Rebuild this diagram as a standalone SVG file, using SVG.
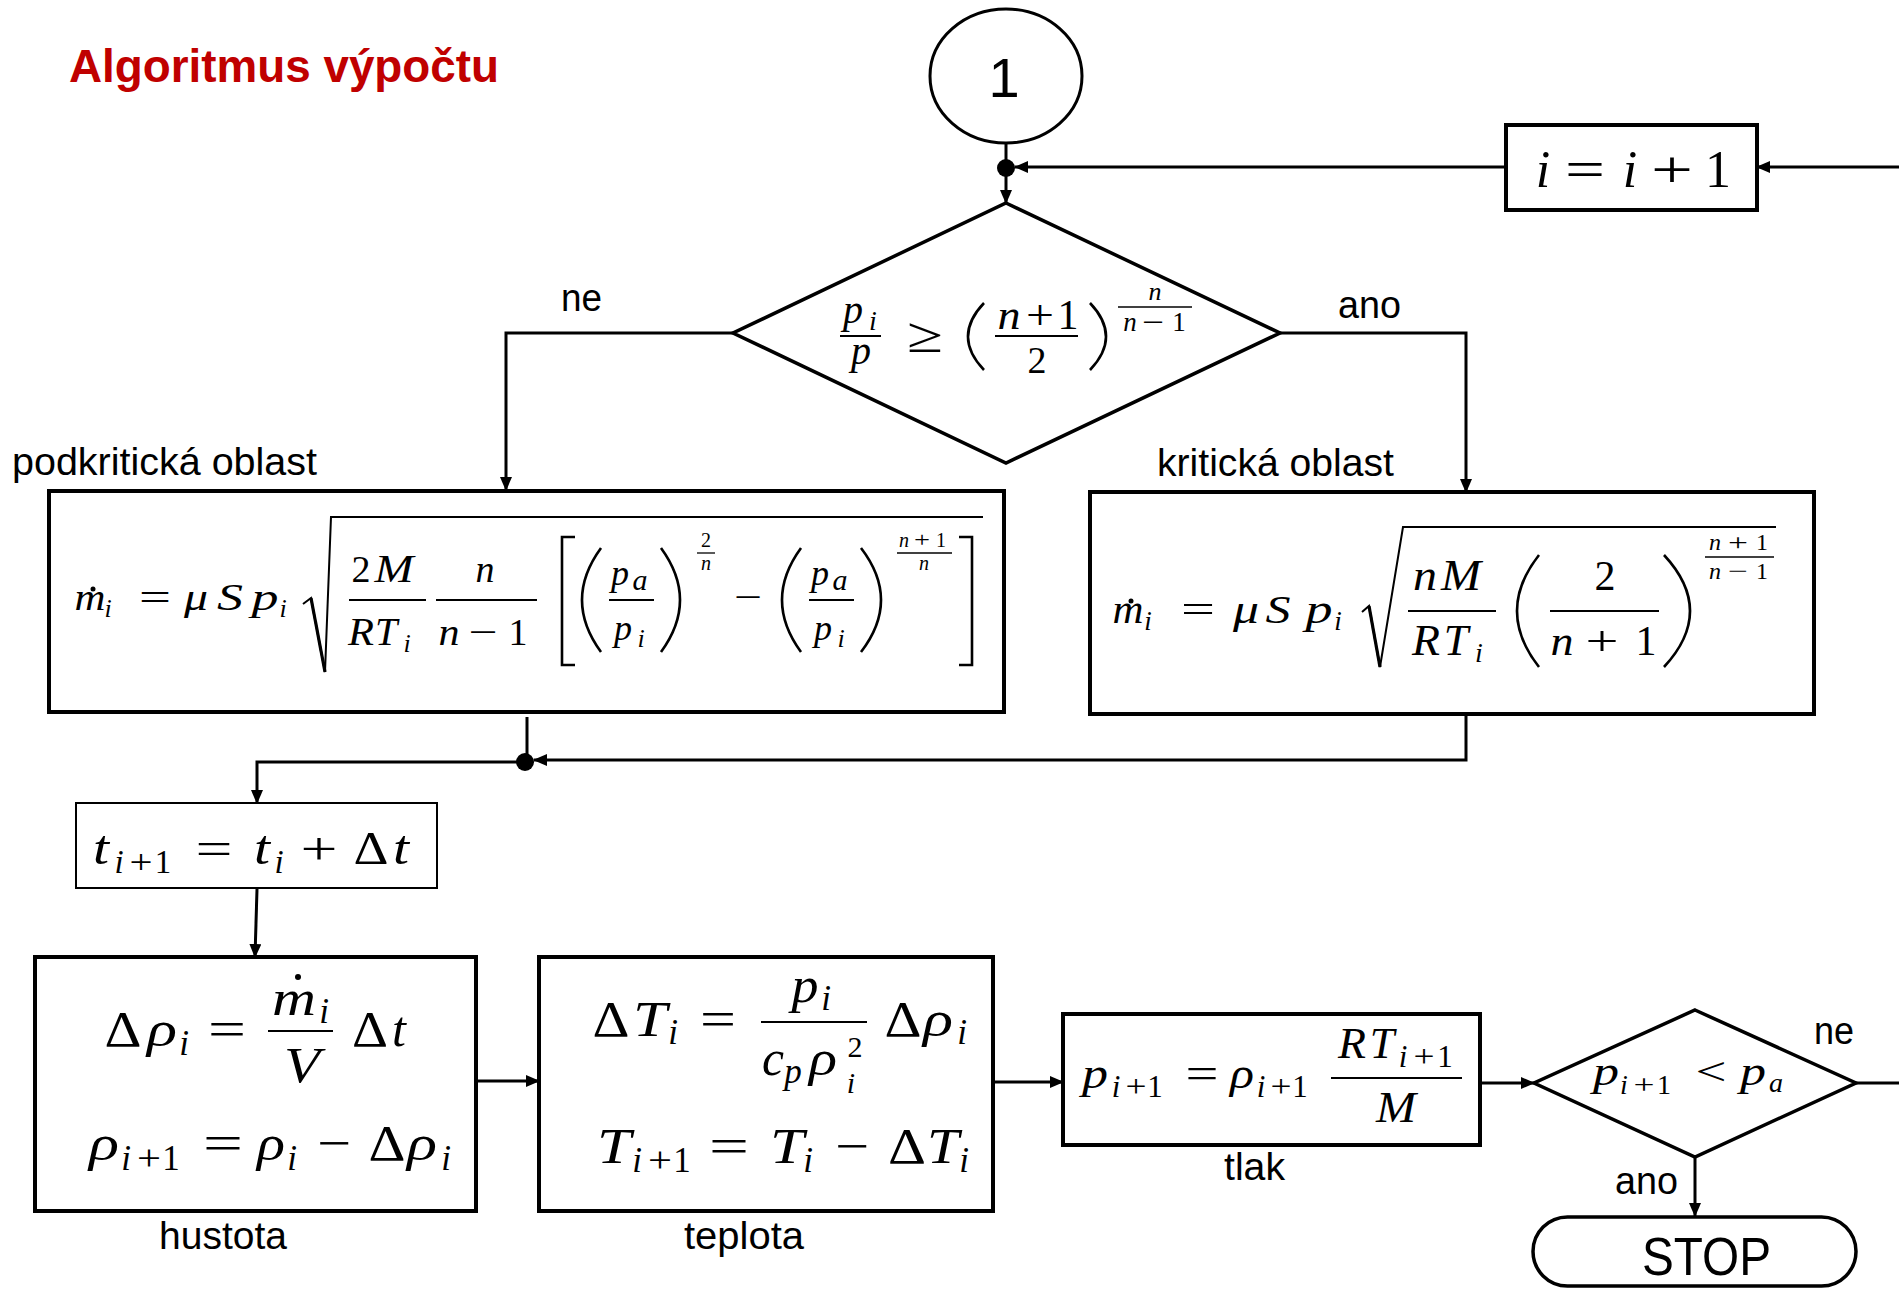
<svg xmlns="http://www.w3.org/2000/svg" width="1899" height="1289" viewBox="0 0 1899 1289">
<defs>
<marker id="ah" viewBox="0 0 14 12" refX="13" refY="6" markerWidth="14" markerHeight="12" markerUnits="userSpaceOnUse" orient="auto"><path d="M0,0 L14,6 L0,12 z" fill="#000"/></marker>
<style>
.node{fill:#fff;stroke:#000;stroke-width:4}
.conn{fill:none;stroke:#000;stroke-width:3}
.lbl{font-family:"Liberation Sans",Arial,sans-serif;font-size:38px;fill:#000}
.mi{font-family:"Liberation Serif","DejaVu Serif",serif;font-style:italic;fill:#000;text-anchor:middle}
.mr{font-family:"Liberation Serif","DejaVu Serif",serif;font-style:normal;fill:#000;text-anchor:middle}
.bar{stroke:#000;stroke-width:2}
.dl{fill:none;stroke:#000;stroke-width:2.6}
</style>
</defs>
<rect width="1899" height="1289" fill="#fff"/>

<text x="69" y="82" font-family="Liberation Sans,Arial,sans-serif" font-weight="bold" font-size="47" fill="#C00000" textLength="430" lengthAdjust="spacingAndGlyphs">Algoritmus výpočtu</text>

<g id="connectors">
<line class="conn" x1="1006" y1="143" x2="1006" y2="162"/>
<line class="conn" x1="1006" y1="168" x2="1006" y2="203" marker-end="url(#ah)"/>
<line class="conn" x1="1899" y1="167" x2="1757" y2="167" marker-end="url(#ah)"/>
<line class="conn" x1="1506" y1="167" x2="1015" y2="167" marker-end="url(#ah)"/>
<polyline class="conn" points="733,333 506,333 506,490" marker-end="url(#ah)"/>
<polyline class="conn" points="1280,333 1466,333 1466,492" marker-end="url(#ah)"/>
<line class="conn" x1="527" y1="717" x2="527" y2="758"/>
<polyline class="conn" points="1466,716 1466,760 534,760" marker-end="url(#ah)"/>
<polyline class="conn" points="525,762 257,762 257,803" marker-end="url(#ah)"/>
<line class="conn" x1="257" y1="889" x2="255" y2="957" marker-end="url(#ah)"/>
<line class="conn" x1="476" y1="1081" x2="539" y2="1081" marker-end="url(#ah)"/>
<line class="conn" x1="993" y1="1082" x2="1063" y2="1082" marker-end="url(#ah)"/>
<line class="conn" x1="1480" y1="1083" x2="1534" y2="1083" marker-end="url(#ah)"/>
<line class="conn" x1="1856" y1="1083" x2="1899" y2="1083"/>
<line class="conn" x1="1695" y1="1157" x2="1695" y2="1216" marker-end="url(#ah)"/>
<circle cx="1006" cy="168" r="9" fill="#000"/>
<circle cx="525" cy="762" r="9" fill="#000"/>
<text class="lbl" x="561" y="311" textLength="41" lengthAdjust="spacingAndGlyphs">ne</text>
<text class="lbl" x="1338" y="318" textLength="63" lengthAdjust="spacingAndGlyphs">ano</text>
<text class="lbl" x="1814" y="1044" textLength="40" lengthAdjust="spacingAndGlyphs">ne</text>
<text class="lbl" x="1615" y="1194" textLength="63" lengthAdjust="spacingAndGlyphs">ano</text>
</g>

<g id="n-start">
<ellipse class="node" cx="1006" cy="76" rx="76" ry="67" style="stroke-width:3"/>
<text x="1004" y="97" text-anchor="middle" font-family="Liberation Sans,Arial,sans-serif" font-size="56">1</text>
</g>

<g id="n-inc">
<rect class="node" x="1506" y="125" width="251" height="85"/>
<text class="mi" x="1543" y="187" font-size="52">i</text>
<text class="mr" x="1585" y="187" font-size="52" textLength="40" lengthAdjust="spacingAndGlyphs">=</text>
<text class="mi" x="1630" y="187" font-size="52">i</text>
<text class="mr" x="1672" y="187" font-size="52" textLength="42" lengthAdjust="spacingAndGlyphs">+</text>
<text class="mr" x="1718" y="187" font-size="52">1</text>
</g>

<g id="n-cond">
<polygon class="node" points="1006,203 1280,333 1006,463 733,333" style="stroke-width:3.5"/>
<text class="mi" x="853" y="323" font-size="40">p</text>
<text class="mi" x="873" y="330" font-size="28">i</text>
<line class="bar" x1="840" y1="336" x2="881" y2="336"/>
<text class="mi" x="861" y="364" font-size="40">p</text>
<text class="mr" x="925" y="352" font-size="50" textLength="36" lengthAdjust="spacingAndGlyphs">≥</text>
<path class="dl" d="M984,303 Q952,336.5 984,370"/>
<text class="mi" x="1009" y="329" font-size="42" textLength="23" lengthAdjust="spacingAndGlyphs">n</text>
<text class="mr" x="1040" y="329" font-size="42" textLength="28" lengthAdjust="spacingAndGlyphs">+</text>
<text class="mr" x="1068" y="329" font-size="42">1</text>
<line class="bar" x1="995" y1="336" x2="1078" y2="336"/>
<text class="mr" x="1037" y="373" font-size="38">2</text>
<path class="dl" d="M1090,303 Q1122,336.5 1090,370"/>
<text class="mi" x="1155" y="300" font-size="26">n</text>
<line class="bar" x1="1118" y1="307" x2="1192" y2="307" style="stroke-width:1.5"/>
<text class="mi" x="1130" y="331" font-size="27">n</text>
<text class="mr" x="1153" y="331" font-size="27" textLength="22" lengthAdjust="spacingAndGlyphs">−</text>
<text class="mr" x="1179" y="331" font-size="27">1</text>
<text class="lbl" x="12" y="475" textLength="305" lengthAdjust="spacingAndGlyphs">podkritická oblast</text>
<text class="lbl" x="1157" y="476" textLength="237" lengthAdjust="spacingAndGlyphs">kritická oblast</text>
</g>

<g id="n-sub">
<rect class="node" x="49" y="491" width="955" height="221"/>
<text class="mi" x="90" y="610" font-size="38" textLength="31" lengthAdjust="spacingAndGlyphs">m</text>
<circle cx="93" cy="589" r="2.5" fill="#000"/>
<text class="mi" x="108" y="617" font-size="26">i</text>
<text class="mr" x="155" y="610" font-size="38" textLength="32" lengthAdjust="spacingAndGlyphs">=</text>
<text class="mi" x="196" y="610" font-size="38" textLength="24" lengthAdjust="spacingAndGlyphs">μ</text>
<text class="mi" x="230" y="610" font-size="38" textLength="26" lengthAdjust="spacingAndGlyphs">S</text>
<text class="mi" x="265" y="610" font-size="38" textLength="27" lengthAdjust="spacingAndGlyphs">p</text>
<text class="mi" x="283" y="617" font-size="26">i</text>
<path class="dl" d="M303,604 L311,598 L325,672 L331,517 L983,517" style="stroke-width:2"/>
<path class="dl" d="M311,598 L325,672" style="stroke-width:3.2"/>
<text class="mr" x="361" y="582" font-size="38">2</text>
<text class="mi" x="394" y="582" font-size="41" textLength="39" lengthAdjust="spacingAndGlyphs">M</text>
<line class="bar" x1="349" y1="600" x2="426" y2="600"/>
<text class="mi" x="361" y="645" font-size="40" textLength="26" lengthAdjust="spacingAndGlyphs">R</text>
<text class="mi" x="386" y="645" font-size="40">T</text>
<text class="mi" x="407" y="652" font-size="26">i</text>
<text class="mi" x="485" y="582" font-size="38">n</text>
<line class="bar" x1="436" y1="600" x2="537" y2="600"/>
<text class="mi" x="449" y="645" font-size="38" textLength="21" lengthAdjust="spacingAndGlyphs">n</text>
<text class="mr" x="483" y="645" font-size="38" textLength="29" lengthAdjust="spacingAndGlyphs">−</text>
<text class="mr" x="518" y="645" font-size="38">1</text>
<path class="dl" d="M575,537 L562,537 L562,665 L575,665"/>
<path class="dl" d="M601,548 Q563,600 601,652"/>
<text class="mi" x="620" y="585" font-size="36">p</text>
<text class="mi" x="640" y="590" font-size="30">a</text>
<line class="bar" x1="609" y1="600" x2="654" y2="600"/>
<text class="mi" x="623" y="640" font-size="36">p</text>
<text class="mi" x="641" y="647" font-size="26">i</text>
<path class="dl" d="M661,548 Q699,600 661,652"/>
<text class="mr" x="706" y="547" font-size="20">2</text>
<line class="bar" x1="697" y1="553" x2="715" y2="553" style="stroke-width:1.3"/>
<text class="mi" x="706" y="570" font-size="20">n</text>
<text class="mr" x="748" y="610" font-size="38" textLength="28" lengthAdjust="spacingAndGlyphs">−</text>
<path class="dl" d="M801,548 Q763,600 801,652"/>
<text class="mi" x="820" y="585" font-size="36">p</text>
<text class="mi" x="840" y="590" font-size="30">a</text>
<line class="bar" x1="809" y1="600" x2="854" y2="600"/>
<text class="mi" x="823" y="640" font-size="36">p</text>
<text class="mi" x="841" y="647" font-size="26">i</text>
<path class="dl" d="M861,548 Q901,600 861,652"/>
<text class="mi" x="904" y="547" font-size="20">n</text>
<text class="mr" x="922" y="547" font-size="20" textLength="16" lengthAdjust="spacingAndGlyphs">+</text>
<text class="mr" x="941" y="547" font-size="20">1</text>
<line class="bar" x1="897" y1="553" x2="952" y2="553" style="stroke-width:1.3"/>
<text class="mi" x="924" y="570" font-size="20">n</text>
<path class="dl" d="M959,537 L972,537 L972,665 L959,665"/>
</g>

<g id="n-crit">
<rect class="node" x="1090" y="492" width="724" height="222"/>
<text class="mi" x="1128" y="623" font-size="40" textLength="31" lengthAdjust="spacingAndGlyphs">m</text>
<circle cx="1131" cy="601" r="2.5" fill="#000"/>
<text class="mi" x="1148" y="630" font-size="27">i</text>
<text class="mr" x="1198" y="623" font-size="40" textLength="34" lengthAdjust="spacingAndGlyphs">=</text>
<text class="mi" x="1246" y="623" font-size="40" textLength="26" lengthAdjust="spacingAndGlyphs">μ</text>
<text class="mi" x="1278" y="623" font-size="40" textLength="25" lengthAdjust="spacingAndGlyphs">S</text>
<text class="mi" x="1319" y="623" font-size="40" textLength="27" lengthAdjust="spacingAndGlyphs">p</text>
<text class="mi" x="1338" y="630" font-size="27">i</text>
<path class="dl" d="M1362,612 L1369,606 L1380,667 L1403,527 L1776,527" style="stroke-width:2"/>
<path class="dl" d="M1369,606 L1380,667" style="stroke-width:3.2"/>
<text class="mi" x="1425" y="590" font-size="44" textLength="24" lengthAdjust="spacingAndGlyphs">n</text>
<text class="mi" x="1461" y="590" font-size="44" textLength="40" lengthAdjust="spacingAndGlyphs">M</text>
<line class="bar" x1="1408" y1="611" x2="1496" y2="611"/>
<text class="mi" x="1426" y="655" font-size="44" textLength="28" lengthAdjust="spacingAndGlyphs">R</text>
<text class="mi" x="1456" y="655" font-size="44">T</text>
<text class="mi" x="1479" y="662" font-size="28">i</text>
<path class="dl" d="M1539,555 Q1495,611 1539,667"/>
<text class="mr" x="1605" y="590" font-size="42">2</text>
<line class="bar" x1="1550" y1="611" x2="1659" y2="611"/>
<text class="mi" x="1562" y="655" font-size="42" textLength="23" lengthAdjust="spacingAndGlyphs">n</text>
<text class="mr" x="1602" y="655" font-size="42" textLength="33" lengthAdjust="spacingAndGlyphs">+</text>
<text class="mr" x="1646" y="655" font-size="42">1</text>
<path class="dl" d="M1664,555 Q1716,611 1664,667"/>
<text class="mi" x="1715" y="550" font-size="24">n</text>
<text class="mr" x="1738" y="550" font-size="24" textLength="20" lengthAdjust="spacingAndGlyphs">+</text>
<text class="mr" x="1762" y="550" font-size="24">1</text>
<line class="bar" x1="1705" y1="557" x2="1774" y2="557" style="stroke-width:1.5"/>
<text class="mi" x="1715" y="579" font-size="24">n</text>
<text class="mr" x="1738" y="579" font-size="24" textLength="20" lengthAdjust="spacingAndGlyphs">−</text>
<text class="mr" x="1762" y="579" font-size="24">1</text>
</g>

<g id="n-time">
<rect class="node" x="76" y="803" width="361" height="85" style="stroke-width:2"/>
<text class="mi" x="101" y="864" font-size="48" textLength="16" lengthAdjust="spacingAndGlyphs">t</text>
<text class="mi" x="119" y="873" font-size="33">i</text>
<text class="mr" x="141" y="873" font-size="33" textLength="23" lengthAdjust="spacingAndGlyphs">+</text>
<text class="mr" x="163" y="873" font-size="33">1</text>
<text class="mr" x="214" y="864" font-size="46" textLength="37" lengthAdjust="spacingAndGlyphs">=</text>
<text class="mi" x="262" y="864" font-size="48" textLength="16" lengthAdjust="spacingAndGlyphs">t</text>
<text class="mi" x="279" y="873" font-size="33">i</text>
<text class="mr" x="319" y="864" font-size="46" textLength="37" lengthAdjust="spacingAndGlyphs">+</text>
<text class="mr" x="371" y="864" font-size="46" textLength="35" lengthAdjust="spacingAndGlyphs">Δ</text>
<text class="mi" x="401" y="864" font-size="48" textLength="16" lengthAdjust="spacingAndGlyphs">t</text>
</g>

<g id="n-density">
<rect class="node" x="35" y="957" width="441" height="254"/>
<text class="mr" x="123" y="1046" font-size="50" textLength="37" lengthAdjust="spacingAndGlyphs">Δ</text>
<text class="mi" x="162" y="1046" font-size="50" textLength="30" lengthAdjust="spacingAndGlyphs">ρ</text>
<text class="mi" x="184" y="1055" font-size="35">i</text>
<text class="mr" x="227" y="1046" font-size="50" textLength="38" lengthAdjust="spacingAndGlyphs">=</text>
<text class="mi" x="294" y="1015" font-size="50" textLength="44" lengthAdjust="spacingAndGlyphs">m</text>
<circle cx="298" cy="977" r="3" fill="#000"/>
<text class="mi" x="324" y="1023" font-size="35">i</text>
<line class="bar" x1="268" y1="1031" x2="333" y2="1031"/>
<text class="mi" x="302" y="1082" font-size="50" textLength="36" lengthAdjust="spacingAndGlyphs">V</text>
<text class="mr" x="370" y="1046" font-size="50" textLength="36" lengthAdjust="spacingAndGlyphs">Δ</text>
<text class="mi" x="399" y="1046" font-size="50">t</text>
<text class="mi" x="104" y="1160" font-size="50" textLength="30" lengthAdjust="spacingAndGlyphs">ρ</text>
<text class="mi" x="126" y="1170" font-size="35">i</text>
<text class="mr" x="149" y="1170" font-size="35" textLength="24" lengthAdjust="spacingAndGlyphs">+</text>
<text class="mr" x="171" y="1170" font-size="35">1</text>
<text class="mr" x="223" y="1160" font-size="50" textLength="40" lengthAdjust="spacingAndGlyphs">=</text>
<text class="mi" x="271" y="1160" font-size="50" textLength="28" lengthAdjust="spacingAndGlyphs">ρ</text>
<text class="mi" x="292" y="1170" font-size="35">i</text>
<text class="mr" x="334" y="1160" font-size="50" textLength="34" lengthAdjust="spacingAndGlyphs">−</text>
<text class="mr" x="387" y="1160" font-size="50" textLength="37" lengthAdjust="spacingAndGlyphs">Δ</text>
<text class="mi" x="422" y="1160" font-size="50" textLength="30" lengthAdjust="spacingAndGlyphs">ρ</text>
<text class="mi" x="446" y="1170" font-size="35">i</text>
<text class="lbl" x="159" y="1249" textLength="128" lengthAdjust="spacingAndGlyphs">hustota</text>
</g>

<g id="n-temp">
<rect class="node" x="539" y="957" width="454" height="254"/>
<text class="mr" x="611" y="1036" font-size="50" textLength="37" lengthAdjust="spacingAndGlyphs">Δ</text>
<text class="mi" x="650" y="1036" font-size="50" textLength="34" lengthAdjust="spacingAndGlyphs">T</text>
<text class="mi" x="673" y="1044" font-size="35">i</text>
<text class="mr" x="718" y="1036" font-size="50" textLength="36" lengthAdjust="spacingAndGlyphs">=</text>
<text class="mi" x="805" y="1002" font-size="50" textLength="27" lengthAdjust="spacingAndGlyphs">p</text>
<text class="mi" x="826" y="1010" font-size="35">i</text>
<line class="bar" x1="761" y1="1022" x2="867" y2="1022"/>
<text class="mi" x="773" y="1075" font-size="50" textLength="22" lengthAdjust="spacingAndGlyphs">c</text>
<text class="mi" x="793" y="1083" font-size="35">p</text>
<text class="mi" x="823" y="1075" font-size="50" textLength="28" lengthAdjust="spacingAndGlyphs">ρ</text>
<text class="mr" x="855" y="1057" font-size="30">2</text>
<text class="mi" x="851" y="1093" font-size="30">i</text>
<text class="mr" x="903" y="1036" font-size="50" textLength="37" lengthAdjust="spacingAndGlyphs">Δ</text>
<text class="mi" x="938" y="1036" font-size="50" textLength="30" lengthAdjust="spacingAndGlyphs">ρ</text>
<text class="mi" x="962" y="1044" font-size="35">i</text>
<text class="mi" x="614" y="1163" font-size="50" textLength="34" lengthAdjust="spacingAndGlyphs">T</text>
<text class="mi" x="637" y="1172" font-size="35">i</text>
<text class="mr" x="660" y="1172" font-size="35" textLength="24" lengthAdjust="spacingAndGlyphs">+</text>
<text class="mr" x="682" y="1172" font-size="35">1</text>
<text class="mr" x="729" y="1163" font-size="50" textLength="40" lengthAdjust="spacingAndGlyphs">=</text>
<text class="mi" x="787" y="1163" font-size="50" textLength="34" lengthAdjust="spacingAndGlyphs">T</text>
<text class="mi" x="808" y="1172" font-size="35">i</text>
<text class="mr" x="852" y="1163" font-size="50" textLength="34" lengthAdjust="spacingAndGlyphs">−</text>
<text class="mr" x="907" y="1163" font-size="50" textLength="38" lengthAdjust="spacingAndGlyphs">Δ</text>
<text class="mi" x="943" y="1163" font-size="50" textLength="32" lengthAdjust="spacingAndGlyphs">T</text>
<text class="mi" x="964" y="1172" font-size="35">i</text>
<text class="lbl" x="684" y="1249" textLength="120" lengthAdjust="spacingAndGlyphs">teplota</text>
</g>

<g id="n-press">
<rect class="node" x="1063" y="1014" width="417" height="131"/>
<text class="mi" x="1095" y="1088" font-size="44" textLength="26" lengthAdjust="spacingAndGlyphs">p</text>
<text class="mi" x="1116" y="1097" font-size="31">i</text>
<text class="mr" x="1136" y="1097" font-size="31" textLength="21" lengthAdjust="spacingAndGlyphs">+</text>
<text class="mr" x="1155" y="1097" font-size="31">1</text>
<text class="mr" x="1202" y="1088" font-size="44" textLength="33" lengthAdjust="spacingAndGlyphs">=</text>
<text class="mi" x="1242" y="1088" font-size="44" textLength="24" lengthAdjust="spacingAndGlyphs">ρ</text>
<text class="mi" x="1261" y="1097" font-size="31">i</text>
<text class="mr" x="1281" y="1097" font-size="31" textLength="21" lengthAdjust="spacingAndGlyphs">+</text>
<text class="mr" x="1300" y="1097" font-size="31">1</text>
<text class="mi" x="1352" y="1058" font-size="44" textLength="28" lengthAdjust="spacingAndGlyphs">R</text>
<text class="mi" x="1382" y="1058" font-size="44">T</text>
<text class="mi" x="1403" y="1067" font-size="31">i</text>
<text class="mr" x="1424" y="1067" font-size="31" textLength="21" lengthAdjust="spacingAndGlyphs">+</text>
<text class="mr" x="1445" y="1067" font-size="31">1</text>
<line class="bar" x1="1331" y1="1078" x2="1462" y2="1078"/>
<text class="mi" x="1396" y="1122" font-size="44" textLength="40" lengthAdjust="spacingAndGlyphs">M</text>
<text class="lbl" x="1224" y="1180" textLength="61" lengthAdjust="spacingAndGlyphs">tlak</text>
</g>

<g id="n-check">
<polygon class="node" points="1695,1010 1856,1083 1695,1157 1534,1083" style="stroke-width:3.5"/>
<text class="mi" x="1606" y="1085" font-size="40" textLength="26" lengthAdjust="spacingAndGlyphs">p</text>
<text class="mi" x="1624" y="1094" font-size="28">i</text>
<text class="mr" x="1644" y="1094" font-size="28" textLength="21" lengthAdjust="spacingAndGlyphs">+</text>
<text class="mr" x="1664" y="1094" font-size="28">1</text>
<text class="mr" x="1711" y="1085" font-size="40" textLength="31" lengthAdjust="spacingAndGlyphs">&lt;</text>
<text class="mi" x="1753" y="1085" font-size="40" textLength="26" lengthAdjust="spacingAndGlyphs">p</text>
<text class="mi" x="1776" y="1092" font-size="28">a</text>
</g>

<g id="n-stop">
<rect class="node" x="1533" y="1217" width="323" height="69" rx="34.5" style="stroke-width:3.5"/>
<text x="1642" y="1275" font-family="Liberation Sans,Arial,sans-serif" font-size="53" textLength="129" lengthAdjust="spacingAndGlyphs">STOP</text>
</g>
</svg>
